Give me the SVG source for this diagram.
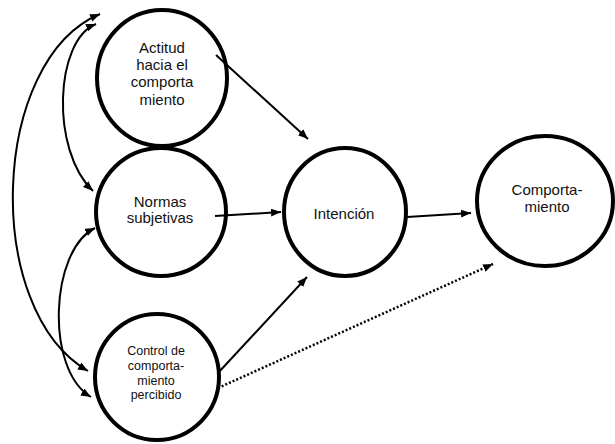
<svg xmlns="http://www.w3.org/2000/svg" width="615" height="444" viewBox="0 0 615 444">
<defs>
<marker id="ah" markerUnits="userSpaceOnUse" markerWidth="11" markerHeight="9" refX="10" refY="4" orient="auto-start-reverse">
<path d="M0,0 L10,4 L0,8 z" fill="#000"/>
</marker>
</defs>
<style>
.node{fill:#fff;stroke:#000;stroke-width:4}
.lbl{font-family:"Liberation Sans",Arial,sans-serif;font-size:15px;fill:#111;text-anchor:middle}
.sm{font-size:12.5px}
.con{fill:none;stroke:#000;stroke-width:2}
.dot{stroke-dasharray:2 2;stroke-width:2.5}
</style>
<rect width="615" height="444" fill="#fff"/>
<g id="n-actitud">
<ellipse class="node" cx="162" cy="78" rx="65" ry="68"/>
<text class="lbl" x="162" y="53">Actitud</text>
<text class="lbl" x="162" y="70">hacia el</text>
<text class="lbl" x="162" y="87">comporta</text>
<text class="lbl" x="162" y="105">miento</text>
</g>
<g id="n-normas">
<ellipse class="node" cx="161" cy="212" rx="65" ry="64"/>
<text class="lbl" x="160" y="207">Normas</text>
<text class="lbl" x="160" y="223">subjetivas</text>
</g>
<g id="n-control">
<ellipse class="node" cx="157" cy="377" rx="62" ry="63"/>
<text class="lbl sm" x="156" y="355">Control de</text>
<text class="lbl sm" x="156" y="370">comporta-</text>
<text class="lbl sm" x="156" y="385">miento</text>
<text class="lbl sm" x="156" y="399">percibido</text>
</g>
<g id="n-intencion">
<ellipse class="node" cx="345" cy="212" rx="61" ry="64"/>
<text class="lbl" x="344" y="219">Intención</text>
</g>
<g id="n-comportamiento">
<ellipse class="node" cx="545" cy="201" rx="68" ry="65"/>
<text class="lbl" x="547" y="195">Comporta-</text>
<text class="lbl" x="547" y="212">miento</text>
</g>
<g id="connectors">
<path class="con" d="M216,55 L308,139" marker-end="url(#ah)"/>
<path class="con" d="M215,216 L281,212" marker-end="url(#ah)"/>
<path class="con" d="M218,373 L307,277" marker-end="url(#ah)"/>
<path class="con" d="M407,217 L471,213" marker-end="url(#ah)"/>
<path class="con dot" d="M218,388 L493,264" marker-end="url(#ah)"/>
<path class="con" d="M100,14 C-10,60 -18,310 88,371" marker-start="url(#ah)" marker-end="url(#ah)"/>
<path class="con" d="M96,24 C55,40 50,150 93,191" marker-start="url(#ah)" marker-end="url(#ah)"/>
<path class="con" d="M95,228 C50,250 45,370 91,397" marker-start="url(#ah)" marker-end="url(#ah)"/>
</g>
</svg>
